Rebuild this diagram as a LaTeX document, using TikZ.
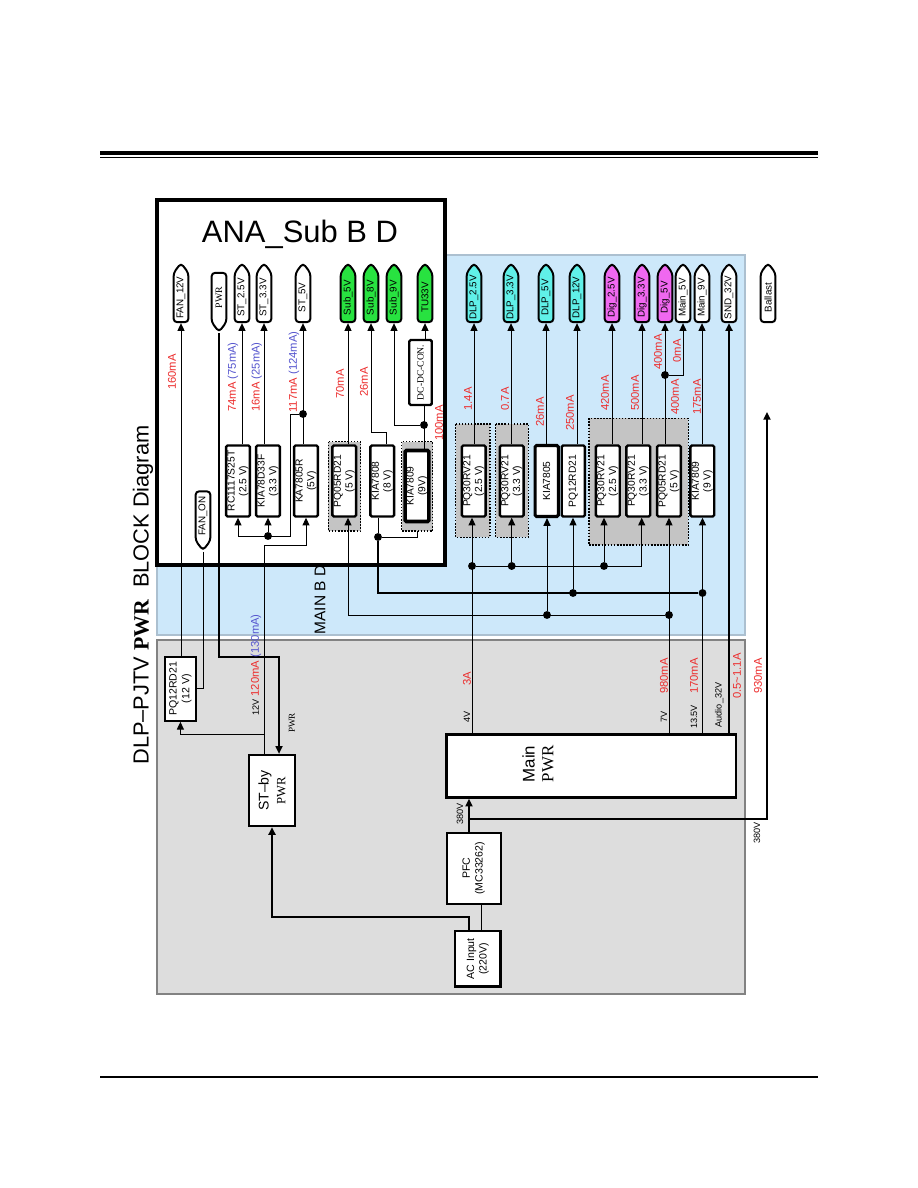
\documentclass[tikz,border=0pt]{standalone}
\usepackage{fontspec}
\setmainfont{Liberation Sans}
\newfontfamily\pwrfont{Liberation Serif}
\usetikzlibrary{shapes.symbols, arrows.meta}

\definecolor{mainblue}{RGB}{205,232,250}
\definecolor{mainblueline}{RGB}{172,192,208}
\definecolor{pwrgray}{RGB}{221,221,221}
\definecolor{pwrgrayline}{RGB}{130,130,130}
\definecolor{grpgray}{RGB}{196,196,196}
\definecolor{taggreen}{RGB}{40,226,64}
\definecolor{tagcyan}{RGB}{96,240,232}
\definecolor{tagpink}{RGB}{240,104,240}
\definecolor{ampred}{RGB}{236,44,44}
\definecolor{ampblue}{RGB}{84,84,206}

\newcommand\vsz{\fontsize{6.5}{7}\selectfont}

\begin{document}
\begin{tikzpicture}[x=0.025cm, y=-0.025cm,
    % output / input tags
    railtag/.style={signal, signal to=east, signal pointer angle=75,
        draw, line width=1.4pt, rounded corners=2.5pt, fill=#1,
        rotate=90, minimum width=1.475cm, minimum height=0.37cm,
        inner sep=0.5pt, font=\fontsize{7}{8}\selectfont},
    railtag/.default=white,
    railin/.style={railtag, signal to=west},
    % regulator boxes
    reg/.style={draw, fill=white, line width=1.7pt, rounded corners=1pt,
        rotate=90, minimum width=1.775cm, minimum height=0.58cm,
        inner sep=1pt, align=center, font=\fontsize{7.3}{8.3}\selectfont},
    pbox/.style={draw, fill=white, line width=1.6pt, rotate=90,
        inner sep=1pt, align=center, font=\fontsize{7.5}{9}\selectfont},
    grp/.style={draw, fill=grpgray, line width=1.1pt,
        dash pattern=on 1.1pt off 1.1pt},
    wire/.style={line width=0.7pt},
    fatwire/.style={line width=1.4pt},
    arr/.style={-{Triangle[length=5.5pt,width=5pt]}},
    jdot/.style={circle, fill, inner sep=0pt, minimum size=5.6pt},
    amp/.style={rotate=90, text=ampred, inner sep=0pt,
        font=\fontsize{8}{9}\selectfont},
    vlbl/.style={rotate=90, inner sep=0pt, font=\vsz}
  ]
  \useasboundingbox (0,0) rectangle (918,1188);

  % ---------- frames ----------
  \draw[line width=2.9pt] (100,153) -- (818,153);
  \draw[line width=1pt] (100,157.5) -- (818,157.5);
  \draw[line width=1pt] (100,1077) -- (818,1077);

  \draw[fill=mainblue, draw=mainblueline, line width=1.1pt] (157,255) rectangle (745,635);
  \draw[fill=pwrgray, draw=pwrgrayline, line width=2pt] (157,640) rectangle (745,994);
  \draw[fill=white, line width=2.2pt] (157,200) rectangle (445,565);

  \node[rotate=90, inner sep=0pt, font=\fontsize{15.5}{18}\selectfont] (title) at (143,595)
      {DLP–PJTV {\pwrfont\bfseries PWR}\ \ BLOCK Diagram};
  \node[inner sep=0pt, font=\fontsize{22}{26}\selectfont] (anaTitle) at (300,234) {ANA\_Sub B D};
  \node[rotate=90, inner sep=0pt, font=\fontsize{11}{13}\selectfont] (mainTitle) at (320,600) {MAIN B D};

  % ---------- group boxes ----------
  \draw[grp] (328.3,441.7) rectangle (360.7,531);
  \draw[grp] (401.7,441.7) rectangle (432.7,531);
  \draw[grp] (455.7,424) rectangle (490,537.3);
  \draw[grp] (495.7,424) rectangle (528.3,537.3);
  \draw[grp] (589,418.3) rectangle (688.3,545);

  % ---------- tags ----------
  \node[railtag] (tFan12) at (181,297.5) {FAN\_12V};
  \node[railin] (tPwr) at (219,297.5) {\pwrfont PWR};
  \node[railtag] (tSt25) at (242,297.5) {ST\_2.5V};
  \node[railtag] (tSt33) at (264,297.5) {ST\_3.3V};
  \node[railtag] (tSt5) at (303,297.5) {ST\_5V};
  \node[railtag=taggreen] (tSub5) at (348,297.5) {Sub\_5V};
  \node[railtag=taggreen] (tSub8) at (371,297.5) {Sub\_8V};
  \node[railtag=taggreen] (tSub9) at (394,297.5) {Sub\_9V};
  \node[railtag=taggreen] (tTu33) at (425,297.5) {TU33V};
  \node[railtag=tagcyan] (tDlp25) at (474,297.5) {DLP\_2.5V};
  \node[railtag=tagcyan] (tDlp33) at (511,297.5) {DLP\_3.3V};
  \node[railtag=tagcyan] (tDlp5) at (546,297.5) {DLP\_5V};
  \node[railtag=tagcyan] (tDlp12) at (577,297.5) {DLP\_12V};
  \node[railtag=tagpink] (tDig25) at (612,297.5) {Dig\_2.5V};
  \node[railtag=tagpink] (tDig33) at (642,297.5) {Dig\_3.3V};
  \node[railtag=tagpink] (tDig5) at (665,297.5) {Dig\_5V};
  \node[railtag] (tMain5) at (683,297.5) {Main\_5V};
  \node[railtag] (tMain9) at (702,297.5) {Main\_9V};
  \node[railtag] (tSnd32) at (729,297.5) {SND\_32V};
  \node[railtag] (tBallast) at (768,297.5) {Ballast};
  \node[railin] (tFanOn) at (203,516) {FAN\_ON};

  % ---------- ANA regulators ----------
  \node[reg] (aRc25) at (238,481) {RC1117S25T\\(2.5 V)};
  \node[reg] (aKia33) at (268,481) {KIA78D33F\\(3.3 V)};
  \node[reg] (aKa5) at (306,481) {KA7805R\\(5V)};
  \node[reg] (aPq5) at (344.3,481) {PQ05RD21\\(5 V)};
  \node[reg] (aKia8) at (382.3,481) {KIA7808\\(8 V)};
  \node[reg, line width=2.6pt] (aKia9) at (417,486) {KIA7809\\(9V)};
  \node[reg, minimum width=1.625cm, minimum height=0.56cm, font=\pwrfont\fontsize{6.8}{7}\selectfont]
      (aDcdc) at (420.5,372.5) {DC-DC-CON.};

  % ---------- MAIN regulators ----------
  \node[reg] (mPq25) at (473.7,481) {PQ30RV21\\(2.5 V)};
  \node[reg] (mPq33) at (511.7,481) {PQ30RV21\\(3.3 V)};
  \node[reg, line width=2.2pt] (mKia5) at (546.7,481) {KIA7805};
  \node[reg] (mPq12) at (573.3,481) {PQ12RD21};
  \node[reg] (mDig25) at (607.8,481) {PQ30RV21\\(2.5 V)};
  \node[reg] (mDig33) at (638.3,481) {PQ30RV21\\(3.3 V)};
  \node[reg] (mPq5) at (669,481) {PQ05RD21\\(5 V)};
  \node[reg] (mKia9) at (702.3,481) {KIA7809\\(9 V)};

  % ---------- PWR board ----------
  \node[pbox, minimum width=1.6cm, minimum height=0.77cm] (pPq12) at (180.4,688.7) {PQ12RD21\\(12 V)};
  \node[pbox, minimum width=1.775cm, minimum height=1.15cm, font=\fontsize{10}{12}\selectfont]
      (pStby) at (272,790.5) {ST–by\\{\pwrfont\fontsize{9}{11}\selectfont PWR}};
  \node[pbox, line width=2pt, minimum width=1.58cm, minimum height=7.23cm] (pMain) at (591.3,765.7) {};
  \node[rotate=90, align=center, inner sep=0pt, font=\fontsize{12}{13.5}\selectfont]
      (pMainTxt) at (538,764) {Main\\{\pwrfont PWR}};
  \node[pbox, minimum width=1.78cm, minimum height=1.35cm] (pPfc) at (473.7,868.3) {PFC\\(MC33262)};
  \node[pbox, minimum width=1.39cm, minimum height=1.14cm] (pAc) at (477.8,958.8) {AC Input\\(220V)};

  % ---------- junctions ----------
  \node[jdot] (d5) at (303,414) {};
  \node[jdot] (d33) at (268,536) {};
  \node[jdot] (d8) at (378,537) {};
  \node[jdot] (d9) at (424,425) {};
  \node[jdot] (d05) at (665,375) {};
  \node[jdot] (d4a) at (472,566) {};
  \node[jdot] (d4b) at (511.7,566) {};
  \node[jdot] (d4c) at (604,566) {};
  \node[jdot] (d7a) at (547,615) {};
  \node[jdot] (d7b) at (669,615) {};
  \node[jdot] (d13a) at (573,593) {};
  \node[jdot] (d13b) at (702.5,593) {};

  \coordinate (pwrBend) at (279,657);
  \coordinate (v12) at (264,545);
  \coordinate (j12) at (264,734);
  \coordinate (b7) at (348,615);
  \coordinate (b8) at (386,432);
  \coordinate (b13) at (378,593);
  \coordinate (g9) at (417,531);
  \coordinate (e4) at (641.7,566);
  \coordinate (o4) at (472,734);
  \coordinate (o7) at (669,734);
  \coordinate (o13) at (702.5,734);
  \coordinate (o32) at (729,734);
  \coordinate (o380) at (469,819);
  \coordinate (ballastEnd) at (767,412);
  \coordinate (acUp) at (469,917);
  \coordinate (acPfc) at (481,917);

  % ---------- wires: ANA ----------
  \draw[wire,arr] (tFan12.west |- pPq12.east) -- (tFan12.west);
  \draw[wire] (tFanOn.west) |- (pPq12.south);
  \draw[wire, line width=1.1pt, arr] (tPwr.west) |- (pwrBend) -- (pwrBend |- pStby.east);
  \draw[wire,arr] (v12 |- pStby.east) -- (v12) -| (aKa5.west);
  \draw[wire,arr] (j12) -| (pPq12.west);
  \draw[wire,arr] (tSt25.west |- aRc25.east) -- (tSt25.west);
  \draw[wire,arr] (tSt33.west |- aKia33.east) -- (tSt33.west);
  \draw[wire,arr] (tSt5.west |- aKa5.east) -- (tSt5.west);
  \draw[wire,arr] (d5) -| (290,536) -| (aRc25.west);
  \draw[wire,arr] (d33) -- (aKia33.west);
  \draw[wire,arr] (tSub5.west |- aPq5.east) -- (tSub5.west);
  \draw[wire,arr] (d7b) -- (b7) -- (b7 |- aPq5.west);
  \draw[wire,arr] (b8 |- aKia8.east) -- (b8) -| (tSub8.west);
  \draw[fatwire] (d13b) -- (b13) -- (d8);
  \draw[wire] (d8) -- (d8 |- aKia8.west);
  \draw[wire] (d8) -| (g9);
  \draw[wire] (d9 |- aKia9.east) -- (d9 |- aDcdc.west);
  \draw[wire,arr] (d9) -| (tSub9.west);
  \draw[wire,arr] (tTu33.west |- aDcdc.east) -- (tTu33.west);

  % ---------- wires: MAIN ----------
  \foreach \r/\t in {mPq25/tDlp25, mPq33/tDlp33, mKia5/tDlp5, mPq12/tDlp12,
                     mDig25/tDig25, mDig33/tDig33, mPq5/tDig5, mKia9/tMain9}
    \draw[wire,arr] (\t.west |- \r.east) -- (\t.west);
  \draw[wire,arr] (d05) -| (tMain5.west);
  \draw[wire,arr] (o4) -- (o4 |- mPq25.west);
  \draw[wire,arr] (d4a) -- (e4) -- (e4 |- mDig33.west);
  \draw[wire,arr] (d4b) -- (d4b |- mPq33.west);
  \draw[wire,arr] (d4c) -- (d4c |- mDig25.west);
  \draw[wire,arr] (o7) -- (o7 |- mPq5.west);
  \draw[wire,arr] (d7a) -- (d7a |- mKia5.west);
  \draw[wire,arr] (o13) -- (o13 |- mKia9.west);
  \draw[wire,arr] (d13a) -- (d13a |- mPq12.west);
  \draw[fatwire,arr] (o32) -- (o32 |- tSnd32.west);

  % ---------- wires: PWR ----------
  \draw[fatwire,arr] (o380 |- pPfc.east) -- (o380 |- pMain.west);
  \draw[fatwire,arr] (o380) -| (ballastEnd);
  \draw[wire] (acPfc |- pAc.east) -- (acPfc |- pPfc.west);
  \draw[fatwire,arr] (acUp |- pAc.east) -- (acUp) -| (pStby.west);

  % ---------- current labels ----------
  \node[amp] (lFan) at (172,372) {160mA};
  \node[amp] (lSt25) at (233,377) {74mA \textcolor{ampblue}{(75mA)}};
  \node[amp] (lSt33) at (256.7,377) {16mA \textcolor{ampblue}{(25mA)}};
  \node[amp] (lSt5) at (294,372) {117mA \textcolor{ampblue}{(124mA)}};
  \node[amp] (lSub5) at (340,384) {70mA};
  \node[amp] (lSub8) at (364,382) {26mA};
  \node[amp] (lTu33) at (439,423) {100mA};
  \node[amp] (lDlp25) at (468,399) {1.4A};
  \node[amp] (lDlp33) at (505,399) {0.7A};
  \node[amp] (lDlp5) at (540,412) {26mA};
  \node[amp] (lDlp12) at (570,413) {250mA};
  \node[amp] (lDig25) at (605,393) {420mA};
  \node[amp] (lDig33) at (635,393) {500mA};
  \node[amp] (lDig5a) at (658,352) {400mA};
  \node[amp] (lMain5) at (677,351) {0mA};
  \node[amp] (lDig5b) at (675,397) {400mA};
  \node[amp] (lMain9) at (697,397) {175mA};

  \node[amp, text=black] (l12) at (256,665)
      {{\vsz 12V} \textcolor{ampred}{120mA} \textcolor{ampblue}{(130mA)}};
  \node[vlbl, font=\pwrfont\vsz] (lPwr) at (292,723) {PWR};
  \node[vlbl] (l4V) at (467,717) {4V};
  \node[amp] (l3A) at (467,679) {3A};
  \node[vlbl] (l7V) at (664,717) {7V};
  \node[amp] (l980) at (664,676) {980mA};
  \node[vlbl] (l135) at (694,717) {13.5V};
  \node[amp] (l170) at (694,676) {170mA};
  \node[vlbl] (lAud) at (719.3,705) {Audio\_32V};
  \node[amp] (lAudA) at (737,676) {0.5\textasciitilde1.1A};
  \node[amp] (l930) at (758,676) {930mA};
  \node[vlbl] (l380a) at (460,814) {380V};
  \node[vlbl] (l380b) at (757,833) {380V};
\end{tikzpicture}
\end{document}
